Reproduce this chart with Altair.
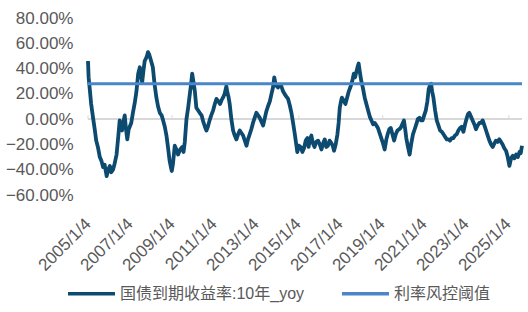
import altair as alt
import pandas as pd

# fractional year of each reading, and yoy value in percent
t = [2005.01, 2005.04, 2005.08, 2005.16, 2005.25, 2005.33, 2005.40, 2005.48, 2005.57, 2005.65,
     2005.73, 2005.80, 2005.90, 2005.97, 2006.05, 2006.12, 2006.20, 2006.28, 2006.37, 2006.45,
     2006.52, 2006.58, 2006.63, 2006.70, 2006.76, 2006.82, 2006.88, 2006.95, 2007.07, 2007.15,
     2007.24, 2007.32, 2007.40, 2007.48, 2007.54, 2007.59, 2007.65, 2007.71, 2007.80, 2007.87,
     2007.93, 2008.00, 2008.05, 2008.10, 2008.18, 2008.27, 2008.35, 2008.43, 2008.52, 2008.59,
     2008.67, 2008.75, 2008.82, 2008.90, 2008.96, 2009.00, 2009.06, 2009.14, 2009.22, 2009.30,
     2009.40, 2009.50, 2009.56, 2009.62, 2009.70, 2009.78, 2009.86, 2009.92, 2009.97, 2010.03,
     2010.10, 2010.17, 2010.25, 2010.33, 2010.42, 2010.50, 2010.58, 2010.65, 2010.72, 2010.80,
     2010.88, 2010.97, 2011.05, 2011.13, 2011.22, 2011.30, 2011.37, 2011.44, 2011.52, 2011.60,
     2011.65, 2011.70, 2011.76, 2011.84, 2011.92, 2012.00, 2012.08, 2012.16, 2012.24, 2012.32,
     2012.40, 2012.48, 2012.56, 2012.63, 2012.71, 2012.79, 2012.87, 2012.95, 2013.03, 2013.11,
     2013.19, 2013.27, 2013.35, 2013.42, 2013.50, 2013.58, 2013.67, 2013.75, 2013.82, 2013.88,
     2013.94, 2014.00, 2014.06, 2014.14, 2014.22, 2014.30, 2014.37, 2014.45, 2014.54, 2014.62,
     2014.70, 2014.78, 2014.86, 2014.93, 2014.98, 2015.06, 2015.14, 2015.22, 2015.30, 2015.38,
     2015.46, 2015.52, 2015.58, 2015.65, 2015.72, 2015.80, 2015.88, 2015.97, 2016.05, 2016.13,
     2016.21, 2016.29, 2016.36, 2016.44, 2016.52, 2016.60, 2016.67, 2016.73, 2016.81, 2016.89,
     2016.95, 2017.00, 2017.06, 2017.10, 2017.18, 2017.27, 2017.35, 2017.43, 2017.50, 2017.56,
     2017.62, 2017.67, 2017.73, 2017.80, 2017.86, 2017.90, 2017.96, 2018.03, 2018.10, 2018.19,
     2018.27, 2018.35, 2018.43, 2018.51, 2018.59, 2018.67, 2018.75, 2018.82, 2018.90, 2018.98,
     2019.06, 2019.14, 2019.22, 2019.30, 2019.36, 2019.43, 2019.51, 2019.59, 2019.67, 2019.75,
     2019.83, 2019.90, 2019.98, 2020.06, 2020.12, 2020.17, 2020.25, 2020.33, 2020.40, 2020.49,
     2020.57, 2020.65, 2020.72, 2020.80, 2020.87, 2020.95, 2021.02, 2021.10, 2021.17, 2021.24,
     2021.30, 2021.35, 2021.40, 2021.46, 2021.54, 2021.62, 2021.70, 2021.78, 2021.86, 2021.94,
     2022.02, 2022.10, 2022.18, 2022.25, 2022.33, 2022.41, 2022.49, 2022.57, 2022.65, 2022.73,
     2022.81, 2022.89, 2022.97, 2023.05, 2023.11, 2023.17, 2023.25, 2023.33, 2023.41, 2023.49,
     2023.57, 2023.65, 2023.73, 2023.81, 2023.89, 2023.97, 2024.05, 2024.13, 2024.21, 2024.29,
     2024.37, 2024.44, 2024.52, 2024.60, 2024.68, 2024.76, 2024.84, 2024.92, 2025.00, 2025.08,
     2025.16, 2025.24, 2025.32, 2025.40, 2025.48, 2025.56, 2025.62, 2025.68]

v = [46, 33, 26, 12, 1, -8, -17, -22, -30, -33,
     -38, -36, -45, -40, -37, -42, -40, -35, -28, -14,
     -1, -6, -9, -2, 3, -8, -16, -8, -3, 5,
     13, 22, 36, 41, 35, 29, 38, 46, 49, 53,
     51, 47, 44, 41, 28, 17, 10, 5, 3, -1,
     -6, -13, -22, -33, -38, -41, -35, -21, -24, -28,
     -24, -22, -26, -18, 0, 9, 20, 28, 36, 30,
     22, 9, 7, 5, 3, -2, -6, -9, -6, -1,
     3, 7, 12, 16, 14, 12, 15, 17, 20, 26,
     21, 18, 12, 0, -9, -13, -16, -12, -9, -11,
     -13, -17, -21, -16, -12, -8, -3, 1, 5, 3,
     1, -2, -5, 0, 6, 10, 14, 20, 25, 33,
     28, 26, 25, 27, 26, 22, 20, 18, 16, 11,
     5, -3, -12, -20, -26, -21, -22, -26, -23, -17,
     -15, -22, -16, -13, -19, -22, -18, -17, -20, -24,
     -19, -16, -22, -21, -17, -19, -21, -25, -20, -12,
     -3, 9, 14, 17, 15, 12, 17, 22, 25, 28,
     32, 36, 33, 38, 42, 44, 37, 30, 25, 17,
     12, 7, 2, -1, -4, -3, -5, -7, -11, -15,
     -19, -24, -16, -11, -8, -7, -12, -17, -12, -9,
     -8, -7, -4, -1, -8, -15, -22, -28, -20, -12,
     -8, -4, 0, 1, -1, -1, 3, 7, 14, 24,
     27, 28, 22, 17, 7, -1, -5, -9, -10, -12,
     -14, -16, -16, -17, -15, -15, -13, -12, -9, -7,
     -6, -10, -4, 1, 4, 5, 2, -1, -4, -8,
     -5, -3, -3, -1, -5, -9, -13, -17, -20, -22,
     -19, -17, -18, -16, -18, -20, -23, -25, -30, -37,
     -31, -29, -31, -28, -30, -26, -27, -21]

THRESHOLD = 28.0
tick_dates = ["2005/01/04", "2009/01/05", "2015/01/20", "2019/01/18", "2025/01/20"]
label_years = list(range(2005, 2026, 2))
y_ticks = [-0.6, -0.4, -0.2, 0.0, 0.2, 0.4, 0.6, 0.8]

S1 = "国债到期收益率:10年_yoy"
S2 = "利率风控阈值"


def to_date(x):
    y = int(x)
    d = pd.Timestamp(year=y, month=1, day=1) + pd.Timedelta(days=(x - y) * 365.25)
    return d.strftime("%Y/%m/%d")


dates = [to_date(x) for x in t]
dates[0] = "2005/01/04"
df = pd.DataFrame({"date": dates, "value": [x / 100 for x in v], "series": S1})
thr = pd.DataFrame({"date": [dates[0], dates[-1]], "value": [THRESHOLD / 100] * 2, "series": S2})
ticks_df = pd.DataFrame({"date": tick_dates})

d0 = pd.Timestamp(dates[0])
d1 = pd.Timestamp(dates[-1])
xdomain = [alt.DateTime(year=d0.year, month=d0.month, date=d0.day),
           alt.DateTime(year=d1.year, month=d1.month, date=d1.day)]

FONT = "Liberation Sans, Arial, Noto Sans CJK SC"
GRAY = "#595959"

x_axis = alt.Axis(
    values=[alt.DateTime(year=yy, month=1, date=4) for yy in label_years],
    labelExpr="year(datum.value) + '/' + (month(datum.value) + 1) + '/' + date(datum.value)",
    labelAngle=-45, labelAlign="right", labelBaseline="middle",
    labelPadding=26, labelOverlap=False, labelFlush=False,
    domain=False, ticks=False, grid=False, title=None,
    labelColor=GRAY, labelFontSize=17, labelFont=FONT,
)
y_axis = alt.Axis(
    values=y_ticks, format=".2%", domain=False, ticks=False, grid=False,
    title=None, labelPadding=15, labelColor=GRAY, labelFontSize=17, labelFont=FONT,
    labelOverlap=False, labelFlush=False, labelBound=False,
)
x_scale = alt.Scale(domain=xdomain)
y_scale = alt.Scale(domain=[-0.6, 0.8], nice=False, zero=False)

color_enc = alt.Color(
    "series:N",
    scale=alt.Scale(domain=[S1, S2], range=["#0D4A70", "#4A86C8"]),
    legend=alt.Legend(
        title=None, orient="none", legendX=-22, legendY=250, direction="horizontal",
        symbolType="stroke", symbolSize=2209, symbolStrokeWidth=3.5,
        labelFont=FONT, labelFontSize=16, labelColor=GRAY, labelOffset=3,
        columnPadding=30, labelLimit=400,
    ),
)


def xe():
    return alt.X("date:T", scale=x_scale, axis=x_axis)


def ye():
    return alt.Y("value:Q", scale=y_scale, axis=y_axis)


zero = alt.Chart(df).mark_rule(color="#D9D9D9", strokeWidth=1).encode(
    y=alt.Y(datum=0, scale=y_scale, axis=y_axis)
)
tick_marks = alt.Chart(ticks_df).mark_rule(color="#D9D9D9", strokeWidth=1, y2Offset=-4).encode(
    x=xe(), y=alt.Y(datum=0, scale=y_scale, axis=y_axis), y2=alt.datum(0)
)
series = alt.Chart(df).mark_line(strokeWidth=3.8, strokeJoin="round").encode(
    x=xe(), y=ye(), color=color_enc
)
threshold = alt.Chart(thr).mark_line(strokeWidth=3).encode(x=xe(), y=ye(), color=color_enc)

chart = alt.layer(zero, tick_marks, series, threshold).properties(
    width=434, height=177,
    background="white",
    autosize=alt.AutoSizeParams(type="none"),
    padding={"left": 88, "top": 18, "right": 6, "bottom": 117},
).configure_view(stroke=None).configure_axis(grid=False, labelOverlap=False)

chart.save("out.html", embed_options={"renderer": "svg", "actions": False})
